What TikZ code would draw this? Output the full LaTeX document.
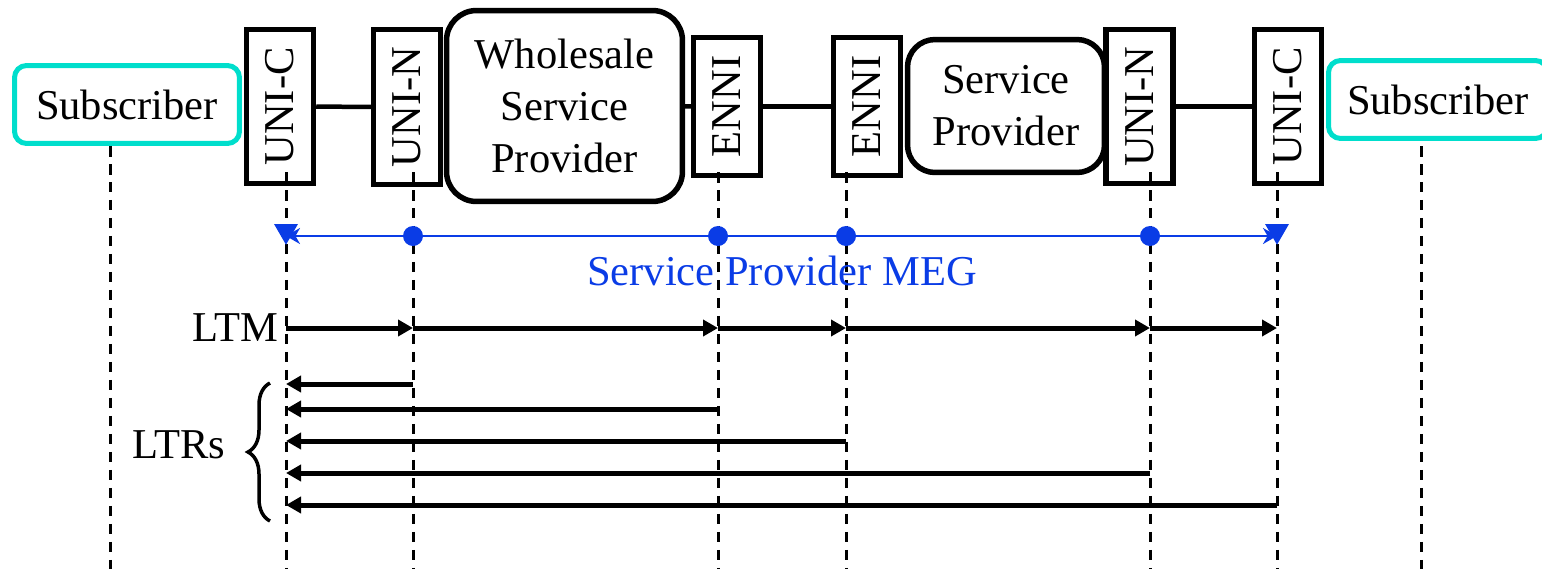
\documentclass[tikz,border=0pt]{standalone}
\usepackage{fontspec}
\setmainfont{Liberation Serif}
\usetikzlibrary{arrows.meta,shapes.geometric,decorations.pathreplacing}
\definecolor{megblue}{RGB}{10,60,230}
\definecolor{subcyan}{RGB}{0,222,204}
\begin{document}
\begin{tikzpicture}[x=0.02cm,y=-0.02cm,
    every node/.style={font=\fontsize{24.2}{29.5}\selectfont},
    subbox/.style={draw=subcyan,line width=0.1cm,rounded corners=0.24cm,
      minimum width=4.5cm,minimum height=1.56cm},
    iface/.style={draw,line width=0.11cm,rotate=90,minimum height=1.34cm},
    provbox/.style={draw,line width=0.11cm,align=center},
    lifeline/.style={line width=0.06cm,dash pattern=on 0.21cm off 0.15cm},
    msg/.style={line width=0.1cm,-{Triangle[length=0.3cm,width=0.32cm]}},
    mip/.style={circle,fill=megblue,inner sep=0pt,minimum size=0.4cm},
    mep/.style={regular polygon,regular polygon sides=3,shape border rotate=180,
      fill=megblue,inner sep=0pt,minimum size=0.55cm}]
      \useasboundingbox (0,0) rectangle (1542,569);
      \clip (0,0) rectangle (1542,569);
      % domains and interfaces
      \node[subbox] (subl) at (127,104.5) {Subscriber};
      \node[iface,minimum width=3.08cm] (unicl) at (280,106.5) {UNI-C};
      \node[iface,minimum width=3.1cm] (uninl) at (407,107) {UNI-N};
      \node[provbox,rounded corners=0.6cm,minimum width=4.72cm,minimum height=3.82cm]
        (wsp) at (564.5,106) {Wholesale\\Service\\Provider};
      \node[iface,minimum width=2.76cm] (ennil) at (727,106.5) {ENNI};
      \node[iface,minimum width=2.76cm] (ennir) at (867,106.5) {ENNI};
      \node[provbox,rounded corners=0.55cm,minimum width=3.94cm,minimum height=2.66cm]
        (sp) at (1006,106) {Service\\Provider};
      \node[iface,minimum width=3.08cm] (uninr) at (1139.5,106.5) {UNI-N};
      \node[iface,minimum width=3.08cm] (unicr) at (1288,106.5) {UNI-C};
      \node[subbox,minimum width=4.38cm] (subr) at (1438,99.5) {Subscriber};
      \begin{scope}[line width=0.09cm]
        \draw (unicl) -- (uninl);
        \draw (wsp) -- (ennil);
        \draw (ennil) -- (ennir);
        \draw (uninr) -- (unicr);
      \end{scope}
      % lifelines
      \foreach \n/\x/\t in {sl/110/146,a/286/172,b/413/172,c/718/172,
          d/846/172,e/1150/172,f/1277/172,sr/1421/146} {
        \coordinate (\n top) at (\x,\t);
        \coordinate (\n bot) at (\x,569);
        \draw[lifeline] (\n top) -- (\n bot);
      }
      % MEG
      \foreach \n/\x in {a/286,b/413,c/718,d/846,e/1150,f/1277}
        \coordinate (meg\n) at (\x,236);
      \draw[megblue,line width=0.05cm,
        {Stealth[length=0.28cm,width=0.32cm]}-{Stealth[length=0.28cm,width=0.32cm]}]
        (mega) -- (megf);
      \node[mep,yshift=0.1cm] (mepa) at (mega) {};
      \node[mep,yshift=0.1cm] (mepf) at (megf) {};
      \foreach \n in {b,c,d,e}
        \node[mip] (mip\n) at (meg\n) {};
      \node[text=megblue] (meglbl) at (782,271) {Service Provider MEG};
      % LTM
      \foreach \n/\x in {a/286,b/413,c/718,d/846,e/1150,f/1277}
        \coordinate (ltm\n) at (\x,328);
      \foreach \p/\q in {a/b,b/c,c/d,d/e,e/f}
        \draw[msg] (ltm\p) -- (ltm\q);
      \node[anchor=east,inner sep=4pt] (ltmlbl) at (ltma) {LTM};
      % LTRs
      \foreach \n/\x/\y in {b/413/384,c/718/409,d/846/441,e/1150/473,f/1277/505} {
        \coordinate (ltrs\n) at (\x,\y);
        \coordinate (ltre\n) at (286,\y);
        \draw[msg] (ltrs\n) -- (ltre\n);
      }
      \coordinate (brbot) at (270,521);
      \coordinate (brtop) at (270,383);
      \draw[line width=0.07cm,decorate,decoration={brace,amplitude=0.44cm}]
        (brbot) -- (brtop);
      \node (ltrlbl) at (179,445) {LTRs};
    \end{tikzpicture}
\end{document}
